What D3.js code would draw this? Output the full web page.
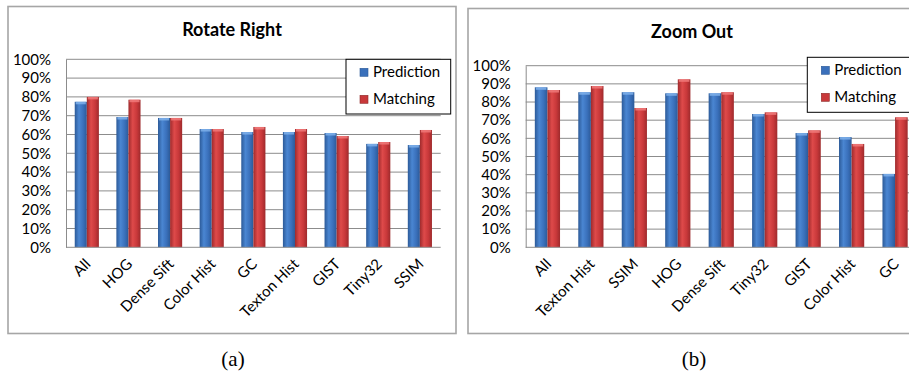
<!DOCTYPE html>
<html>
<head>
<meta charset="utf-8">
<script src="https://cdn.jsdelivr.net/npm/d3@7"></script>
<style>
  html, body { margin: 0; padding: 0; background: #fff; }
  svg { display: block; }
  text { fill: #000; }
</style>
</head>
<body>
<svg id="fig" width="909" height="374"></svg>
<script>
// ---- data ----
const seriesNames = ["Prediction", "Matching"];
const yTicks = [0, 10, 20, 30, 40, 50, 60, 70, 80, 90, 100];

const rotateCategories = ["All", "HOG", "Dense Sift", "Color Hist", "GC", "Texton Hist", "GIST", "Tiny32", "SSIM"];
const rotatePrediction = [77.4, 69.3, 68.8, 62.9, 61.3, 61.3, 60.8, 55.0, 54.4];
const rotateMatching   = [80.0, 78.5, 68.8, 62.9, 64.0, 62.9, 59.2, 56.0, 62.4];

const zoomCategories = ["All", "Texton Hist", "SSIM", "HOG", "Dense Sift", "Tiny32", "GIST", "Color Hist", "GC"];
const zoomPrediction = [88.1, 85.4, 85.4, 84.8, 84.8, 73.4, 62.9, 60.7, 40.4];
const zoomMatching   = [86.6, 88.8, 76.7, 92.5, 85.4, 74.3, 64.4, 56.9, 71.6];

const SANS = "Lato, 'Open Sans', sans-serif";
const SERIF = "'Liberation Serif', 'DejaVu Serif', serif";

const svg = d3.select("#fig");
const defs = svg.append("defs");

// horizontal shading for the cylinder-like bars
function barGradient(id, edge, mid, light) {
  const g = defs.append("linearGradient").attr("id", id)
    .attr("x1", "0%").attr("x2", "100%").attr("y1", "0%").attr("y2", "0%");
  g.append("stop").attr("offset", "0%").attr("stop-color", edge);
  g.append("stop").attr("offset", "35%").attr("stop-color", light);
  g.append("stop").attr("offset", "70%").attr("stop-color", mid);
  g.append("stop").attr("offset", "100%").attr("stop-color", edge);
}
barGradient("gBlue", "#2c5a98", "#3a70bb", "#4a86d2");
barGradient("gRed",  "#9e2a2c", "#c8383a", "#de4a4a");
const fills = ["url(#gBlue)", "url(#gRed)"];
const caps = ["#7fb0ea", "#f07a7a"];
const swatch = ["#3a70bb", "#c8383a"];

function drawPanel(o) {
  const g = svg.append("g");

  // outer frame
  g.append("rect").attr("x", o.frame[0]).attr("y", o.frame[1])
    .attr("width", o.frame[2]).attr("height", o.frame[3])
    .attr("fill", "#fff").attr("stroke", "#a6a6a6").attr("stroke-width", 1.6);

  const x = d3.scaleBand().domain(o.categories).range([o.left, o.right]).paddingInner(0.42).paddingOuter(0.21);
  const xs = d3.scaleBand().domain(seriesNames).range([0, x.bandwidth()]);
  const y = d3.scaleLinear().domain([0, 100]).range([o.bottom, o.top]);

  // gridlines
  g.append("g").selectAll("line").data(yTicks.slice(1)).join("line")
    .attr("x1", o.left).attr("x2", o.gridRight)
    .attr("y1", d => y(d)).attr("y2", d => y(d))
    .attr("stroke", "#8c8c8c").attr("stroke-width", 1);

  // y axis
  const ya = g.append("g").attr("transform", `translate(${o.left},0)`)
    .call(d3.axisLeft(y).tickValues(yTicks).tickFormat(d => d + "%").tickSize(0).tickPadding(15));
  ya.select(".domain").attr("stroke", "#8c8c8c");
  ya.selectAll("text").style("font-size", "15px").style("font-family", SANS).attr("fill", "#000");

  // bars
  const series = [o.prediction, o.matching];
  series.forEach((vals, si) => {
    const sg = g.append("g");
    sg.selectAll("rect.bar").data(vals).join("rect").attr("class", "bar")
      .attr("x", (d, i) => x(o.categories[i]) + xs(seriesNames[si]))
      .attr("y", d => y(d))
      .attr("width", xs.bandwidth())
      .attr("height", d => y(0) - y(d))
      .attr("fill", fills[si]);
    sg.selectAll("rect.cap").data(vals).join("rect").attr("class", "cap")
      .attr("x", (d, i) => x(o.categories[i]) + xs(seriesNames[si]) + 1)
      .attr("y", d => y(d))
      .attr("width", xs.bandwidth() - 2)
      .attr("height", 2.5)
      .attr("fill", caps[si]).attr("opacity", 0.85);
  });

  // bottom axis line
  g.append("line").attr("x1", o.left).attr("x2", o.gridRight)
    .attr("y1", y(0)).attr("y2", y(0)).attr("stroke", "#8c8c8c");

  // rotated category labels
  g.append("g").selectAll("text").data(o.categories).join("text")
    .attr("transform", d => `translate(${x(d) + x.bandwidth() / 2 + 1},${y(0) + 14}) rotate(-45)`)
    .attr("text-anchor", "end").attr("dy", "0.35em")
    .style("font-size", "15px").style("font-family", SANS)
    .text(d => d);

  // title
  g.append("text").attr("x", o.titleX).attr("y", o.titleY)
    .attr("text-anchor", "middle")
    .style("font-size", "18px").style("font-weight", "bold").style("font-family", SANS)
    .text(o.title);

  // legend
  const lg = g.append("g").attr("transform", `translate(${o.legend[0]},${o.legend[1]})`);
  lg.append("rect").attr("width", o.legend[2]).attr("height", o.legend[3])
    .attr("fill", "#fff").attr("stroke", "#000").attr("stroke-width", 1);
  seriesNames.forEach((name, i) => {
    const yy = 18 + i * 27;
    lg.append("rect").attr("x", 14).attr("y", yy - 9).attr("width", 8).attr("height", 8)
      .attr("fill", swatch[i]).attr("stroke", i ? "#8e2a2a" : "#2c5a98").attr("stroke-width", 0.6);
    lg.append("text").attr("x", 27).attr("y", yy)
      .style("font-size", "15px").style("font-family", SANS).text(name);
  });

  // caption under the panel
  svg.append("text").attr("x", o.captionX).attr("y", 366)
    .attr("text-anchor", "middle")
    .style("font-size", "21px").style("font-family", SERIF)
    .text(o.caption);
}

drawPanel({
  title: "Rotate Right", caption: "(a)",
  categories: rotateCategories, prediction: rotatePrediction, matching: rotateMatching,
  frame: [8, 6.5, 448, 327],
  left: 66, right: 440.7, gridRight: 440.7, top: 59.3, bottom: 247.3,
  titleX: 232, titleY: 36,
  legend: [346, 59.3, 104.7, 54.7],
  captionX: 233
});

drawPanel({
  title: "Zoom Out", caption: "(b)",
  categories: zoomCategories, prediction: zoomPrediction, matching: zoomMatching,
  frame: [468, 8.5, 460, 325],
  left: 525.7, right: 916.8, gridRight: 916.8, top: 65.7, bottom: 247.3,
  titleX: 692, titleY: 38,
  legend: [807.3, 57.3, 120, 55],
  captionX: 694
});
</script>
</body>
</html>
